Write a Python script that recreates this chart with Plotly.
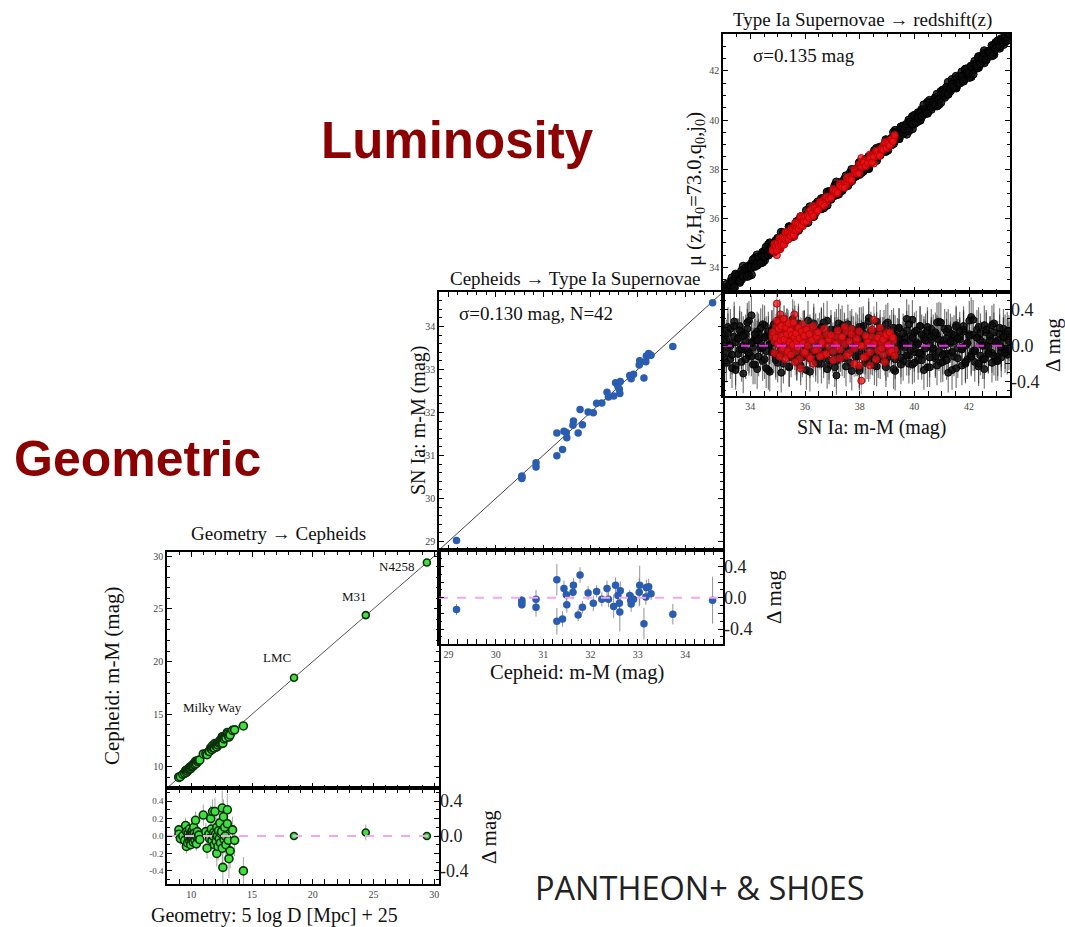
import plotly.graph_objects as go

W, H = 1065, 927
SERIF = "Liberation Serif"


def px(x):
    return x / W


def py(y):
    return 1 - y / H


# ------------------------------------------------------------------ data
# Panel 1: Geometry -> Cepheids (Milky Way parallax Cepheids)
mw_x = [8.98, 8.98, 9.1, 9.3, 9.45, 9.53, 9.6, 9.62, 9.7, 9.75,
        9.8, 9.85, 9.88, 9.92, 9.95, 10.0, 10.02, 10.05, 10.08, 10.1,
        10.12, 10.15, 10.2, 10.22, 10.25, 10.3, 10.35, 10.38, 10.42, 10.5,
        10.55, 10.62, 10.7, 10.99, 11.2, 11.3, 11.45, 11.5, 11.6, 11.65,
        11.7, 11.75, 11.8, 11.85, 11.9, 11.95, 12.0, 12.05, 12.1, 12.1,
        12.15, 12.2, 12.25, 12.3, 12.35, 12.4, 12.45, 12.5, 12.55, 12.55,
        12.6, 12.65, 12.7, 12.75, 12.8, 12.85, 12.97, 12.97, 13.05, 13.1,
        13.2, 13.4, 13.57, 14.29]
mw_res = [0.07, 0.02, -0.03, 0.0, -0.05, 0.12, -0.12, 0.05, -0.08, 0.03,
          -0.02, 0.08, -0.06, 0.01, -0.1, 0.04, -0.03, 0.0, 0.06, -0.04,
          0.02, -0.07, 0.1, -0.01, 0.03, -0.05, 0.18, 0.0, -0.09, 0.05,
          -0.02, 0.01, -0.04, 0.24, 0.05, -0.14, 0.02, -0.03, 0.2, 0.08,
          -0.05, 0.28, 0.0, 0.04, -0.1, 0.28, 0.02, -0.06, -0.2, 0.1,
          0.0, -0.12, 0.06, -0.03, 0.15, -0.08, 0.03, 0.05, 0.32, -0.14,
          -0.36, 0.22, -0.04, 0.1, 0.0, -0.1, 0.3, 0.14, -0.05, -0.26,
          -0.17, 0.07, -0.05, -0.4]
mw_err = [0.06, 0.08, 0.07, 0.1, 0.06, 0.09, 0.08, 0.05, 0.07, 0.06,
          0.05, 0.08, 0.06, 0.05, 0.07, 0.06, 0.05, 0.05, 0.07, 0.06,
          0.05, 0.06, 0.08, 0.05, 0.06, 0.07, 0.1, 0.06, 0.08, 0.07,
          0.06, 0.07, 0.08, 0.12, 0.1, 0.12, 0.1, 0.11, 0.15, 0.12,
          0.13, 0.14, 0.1, 0.12, 0.15, 0.16, 0.12, 0.14, 0.15, 0.13,
          0.12, 0.16, 0.14, 0.12, 0.18, 0.15, 0.14, 0.16, 0.2, 0.18,
          0.22, 0.2, 0.16, 0.18, 0.14, 0.2, 0.18, 0.17, 0.2, 0.22,
          0.2, 0.15, 0.18, 0.16]
anchor_names = ["LMC", "M31", "N4258"]
anchor_x = [18.46, 24.37, 29.40]
anchor_res = [0.0, 0.04, 0.0]
anchor_err = [0.03, 0.09, 0.04]

# Panel 2: Cepheids -> SN Ia calibrators (N=42)
cal_x = [29.17, 30.55, 30.55, 30.55, 30.85, 30.85, 31.29, 31.29, 31.41, 31.44,
         31.49, 31.5, 31.64, 31.63, 31.74, 31.78, 31.83, 31.95, 32.06, 32.13,
         32.24, 32.35, 32.38, 32.49, 32.53, 32.58, 32.61, 32.62, 32.63, 32.83,
         32.85, 32.86, 32.91, 33.03, 33.04, 33.13, 33.17, 33.18, 33.23, 33.28,
         33.74, 34.58]
cal_res = [-0.15, -0.03, -0.09, -0.06, -0.02, -0.12, 0.23, -0.30, -0.27, 0.12,
           0.04, -0.09, 0.16, 0.07, -0.22, 0.29, -0.12, 0.06, -0.07, 0.08,
           -0.02, 0.12, -0.02, -0.11, 0.16, 0.03, -0.07, -0.18, 0.09, 0.03,
           -0.03, -0.08, -0.02, 0.07, 0.16, -0.33, 0.01, 0.13, 0.14, 0.05,
           -0.21, -0.03]
cal_err = [0.07, 0.05, 0.05, 0.05, 0.12, 0.12, 0.2, 0.17, 0.1, 0.1,
           0.1, 0.1, 0.09, 0.09, 0.08, 0.1, 0.08, 0.09, 0.1, 0.08,
           0.09, 0.1, 0.1, 0.15, 0.1, 0.1, 0.1, 0.25, 0.12, 0.07,
           0.07, 0.1, 0.07, 0.18, 0.25, 0.2, 0.1, 0.1, 0.1, 0.08,
           0.13, 0.3]

# Panel 3: SN Ia -> redshift (Hubble flow); black = Pantheon+, red = low-z subsample
sn_x = [33.05, 33.12, 33.18, 33.27, 33.33, 33.41, 33.46, 33.55, 33.61, 33.68,
        33.74, 33.83, 33.89, 33.95, 34.04, 34.1, 34.17, 34.25, 34.3, 34.38,
        34.45, 34.52, 34.58, 34.66, 34.71, 34.79, 34.86, 34.93, 35.0, 35.07,
        35.13, 35.21, 35.28, 35.34, 35.42, 35.49, 35.55, 35.63, 35.7, 35.76,
        35.84, 35.9, 35.97, 36.05, 36.11, 36.18, 36.26, 36.32, 36.39, 36.47,
        36.53, 36.6, 36.68, 36.74, 36.81, 36.88, 36.95, 37.02, 37.09, 37.15,
        37.23, 37.3, 37.36, 37.44, 37.5, 37.57, 37.65, 37.71, 37.78, 37.86,
        37.92, 37.99, 38.06, 38.13, 38.2, 38.27, 38.33, 38.41, 38.47, 38.54,
        38.62, 38.68, 38.75, 38.83, 38.89, 38.96, 39.03, 39.1, 39.17, 39.24,
        39.3, 39.38, 39.44, 39.51, 39.59, 39.65, 39.72, 39.8, 39.86, 39.93,
        40.0, 40.07, 40.14, 40.21, 40.27, 40.35, 40.41, 40.48, 40.56, 40.62,
        40.69, 40.77, 40.83, 40.9, 40.97, 41.04, 41.11, 41.18, 41.24, 41.32,
        41.38, 41.45, 41.53, 41.59, 41.66, 41.74, 41.8, 41.87, 41.94, 42.01,
        42.08, 42.15, 42.21, 42.29, 42.35, 42.42, 42.5, 42.56, 42.63, 42.71,
        42.77, 42.84, 42.91, 42.98, 43.05, 43.12, 43.18, 43.26, 43.32, 43.4,
        43.46]
sn_res_a = [0.12, -0.08, 0.21, -0.15, 0.03, 0.27, -0.22, 0.09, -0.04, 0.16,
            -0.31, 0.05, 0.19, -0.11, 0.34, -0.02, 0.08, -0.26, 0.14, 0.01,
            -0.17, 0.23, -0.06, 0.11, -0.29, 0.18, 0.04, -0.13, 0.26, -0.09,
            0.07, -0.2, 0.15, 0.0, -0.24, 0.1, 0.3, -0.05, -0.16, 0.22,
            0.06, -0.1, 0.17, -0.27, 0.02, 0.13, -0.07, 0.25, -0.18, 0.09,
            -0.03, 0.2, -0.14, 0.05, 0.28, -0.21, 0.12, -0.08, 0.16, -0.33,
            0.04, 0.19, -0.12, 0.08, -0.01, 0.24, -0.19, 0.11, -0.06, 0.15,
            0.03, -0.25, 0.21, -0.09, 0.07, -0.15, 0.31, 0.0, -0.11, 0.14,
            -0.23, 0.06, 0.18, -0.04, 0.1, -0.17, 0.26, -0.08, 0.02, 0.13,
            -0.28, 0.09, 0.2, -0.13, 0.05, -0.02, 0.17, -0.2, 0.11, 0.29,
            -0.07, 0.04, -0.16, 0.22, -0.1, 0.08, 0.14, -0.24, 0.01, 0.19,
            -0.05, -0.14, 0.12, 0.27, -0.19, 0.06, -0.09, 0.16, -0.3, 0.03,
            0.1, -0.12, 0.23, -0.03, 0.07, -0.22, 0.18, 0.0, -0.15, 0.13,
            0.32, -0.06, -0.18, 0.09, 0.21, -0.11, 0.04, -0.26, 0.15, -0.01,
            0.11, -0.08, 0.25, -0.17, 0.06, 0.02, -0.13, 0.19, -0.04, 0.08,
            0.12]
sn_res_b = [-0.14, 0.07, -0.02, 0.19, -0.25, 0.1, 0.04, -0.09, 0.22, -0.18,
            0.0, 0.13, -0.06, 0.28, -0.12, 0.05, -0.21, 0.16, 0.08, -0.03,
            0.24, -0.15, 0.11, -0.27, 0.02, 0.17, -0.08, 0.09, -0.19, 0.3,
            -0.04, 0.12, -0.1, 0.2, -0.23, 0.06, 0.14, -0.01, -0.17, 0.25,
            0.03, -0.13, 0.18, -0.07, 0.1, -0.29, 0.07, 0.21, -0.11, 0.01,
            0.15, -0.2, 0.26, -0.05, 0.09, -0.16, 0.12, 0.04, -0.24, 0.19,
            -0.09, 0.02, 0.23, -0.14, 0.08, -0.02, 0.17, -0.28, 0.11, 0.05,
            -0.12, 0.21, -0.06, 0.14, -0.19, 0.0, 0.27, -0.1, 0.07, -0.22,
            0.16, 0.03, -0.15, 0.1, -0.04, 0.24, -0.13, 0.06, 0.18, -0.26,
            0.12, -0.07, 0.2, -0.01, -0.17, 0.09, 0.3, -0.11, 0.04, -0.21,
            0.15, 0.01, -0.08, 0.22, -0.16, 0.11, -0.03, 0.17, -0.24, 0.07,
            0.13, -0.12, 0.26, -0.06, 0.02, -0.18, 0.19, 0.08, -0.09, 0.14,
            -0.27, 0.05, 0.21, -0.14, 0.1, -0.02, 0.16, -0.2, 0.03, 0.28,
            -0.1, 0.12, -0.05, 0.18, -0.23, 0.06, -0.15, 0.23, 0.0, -0.08,
            0.11, -0.19, 0.15, 0.04, -0.12, 0.2, -0.06, 0.09, 0.13, -0.1,
            0.05]
sn_res_c = [0.05, -0.19, 0.14, 0.0, -0.1, 0.22, -0.27, 0.08, 0.17, -0.04,
            0.11, -0.15, 0.26, -0.08, 0.03, -0.21, 0.13, 0.06, -0.12, 0.2,
            -0.02, 0.09, -0.25, 0.16, 0.01, -0.07, 0.24, -0.16, 0.1, 0.04,
            -0.3, 0.15, -0.05, 0.19, 0.07, -0.13, 0.0, 0.23, -0.1, 0.12,
            -0.22, 0.05, 0.17, -0.03, 0.28, -0.14, 0.08, -0.06, 0.14, -0.2,
            0.02, 0.21, -0.09, 0.11, -0.26, 0.06, 0.18, -0.01, 0.1, -0.17,
            0.25, -0.07, 0.03, 0.15, -0.23, 0.09, -0.04, 0.19, 0.0, -0.12,
            0.13, -0.28, 0.07, 0.22, -0.1, 0.04, -0.18, 0.16, 0.01, -0.06,
            0.27, -0.14, 0.1, -0.02, 0.18, -0.24, 0.05, 0.12, -0.09, 0.2,
            -0.15, 0.0, 0.08, -0.21, 0.14, 0.03, -0.11, 0.24, -0.05, 0.09,
            -0.19, 0.17, 0.02, -0.08, 0.13, -0.27, 0.06, 0.21, -0.13, 0.1,
            -0.03, 0.15, -0.22, 0.07, 0.26, -0.1, 0.01, -0.16, 0.19, 0.05,
            -0.07, 0.12, -0.25, 0.08, 0.16, -0.04, 0.22, -0.18, 0.03, 0.11,
            -0.12, 0.29, -0.06, 0.09, -0.2, 0.14, 0.0, -0.15, 0.18, -0.09,
            0.06, 0.23, -0.11, 0.04, -0.17, 0.13, -0.02, 0.1, -0.08, 0.16,
            -0.05]
sn_err = 0.22
red_x = [34.82, 34.88, 34.93, 34.97, 35.0, 35.04, 35.07, 35.1, 35.13, 35.16,
         35.19, 35.22, 35.25, 35.28, 35.31, 35.34, 35.37, 35.4, 35.43, 35.46,
         35.49, 35.52, 35.55, 35.58, 35.61, 35.64, 35.67, 35.7, 35.73, 35.77,
         35.8, 35.84, 35.88, 35.92, 35.96, 36.0, 36.05, 36.1, 36.15, 36.2,
         36.25, 36.3, 36.36, 36.42, 36.48, 36.55, 36.62, 36.7, 36.78, 36.86,
         36.95, 37.03, 37.12, 37.2, 37.28, 37.36, 37.45, 37.53, 37.62, 37.7,
         37.8, 37.9, 37.98, 38.06, 38.14, 38.22, 38.3, 38.38, 38.45, 38.52,
         38.6, 38.67, 38.74, 38.8, 38.86, 38.92, 38.98, 39.04, 39.1, 39.16,
         39.22, 39.28]
red_res_a = [0.1, 0.05, 0.2, 0.47, 0.14, 0.02, 0.25, 0.35, 0.08, -0.05,
             0.18, 0.12, 0.3, 0.04, 0.16, -0.1, 0.22, 0.07, 0.13, -0.02,
             0.19, 0.09, 0.27, 0.01, 0.35, 0.15, -0.06, 0.11, 0.21, 0.03,
             -0.15, 0.17, 0.08, 0.24, -0.08, 0.12, 0.05, 0.2, -0.12, 0.1,
             0.16, -0.2, 0.06, 0.14, -0.04, 0.09, 0.02, -0.1, 0.13, 0.0,
             0.07, -0.06, 0.11, 0.04, -0.14, 0.09, 0.02, 0.16, -0.08, 0.19,
             -0.03, 0.05, -0.22, -0.39, 0.0, -0.12, 0.08, -0.22, 0.1, 0.29,
             0.06, -0.05, 0.12, 0.03, -0.1, 0.09, 0.14, 0.0, -0.07, 0.11,
             0.05, -0.04]
red_res_b = [0.15, -0.08, 0.09, 0.28, 0.02, 0.19, -0.12, 0.06, 0.22, 0.11,
             -0.03, 0.3, 0.07, -0.15, 0.2, 0.13, -0.06, 0.25, 0.04, 0.17,
             -0.1, 0.12, 0.01, 0.26, 0.09, -0.18, 0.14, 0.05, -0.02, 0.2,
             0.08, -0.25, 0.16, 0.03, 0.11, -0.07, 0.18, 0.0, 0.13, -0.14,
             0.06, 0.22, -0.05, 0.1, 0.15, -0.12, 0.04, 0.19, -0.09, 0.07,
             0.12, -0.16, 0.02, 0.17, -0.04, 0.1, 0.21, -0.11, 0.05, 0.13,
             -0.2, 0.08, 0.16, 0.0, -0.13, 0.11, 0.04, -0.07, 0.18, 0.02,
             -0.15, 0.09, 0.2, -0.03, 0.07, -0.18, 0.12, 0.01, 0.15, -0.06,
             0.09, -0.11]
red_err = 0.15

# axis ranges
r1 = [8.0, 30.4]
r1_res = [-0.55, 0.55]
r2 = [28.8, 34.8]
r2_res = [-0.59, 0.61]
r3 = [33.0, 43.5]
r3_res = [-0.56, 0.60]

# ------------------------------------------------------------------ helpers


def plus(a, b):
    return [u + v for u, v in zip(a, b)]


def minus(a, b):
    return [u - v for u, v in zip(a, b)]


def frame(**kw):
    base = dict(showline=True, linecolor="black", linewidth=1.5, mirror="allticks",
                ticks="inside", ticklen=5, tickcolor="black", tickwidth=1,
                showgrid=False, zeroline=False,
                tickfont=dict(family=SERIF, size=10, color="#444"))
    base.update(kw)
    return base


def right_axis(over, anchor, rng, dom):
    return dict(overlaying=over, side="right", anchor=anchor, range=rng, domain=dom,
                tickvals=[-0.4, 0.0, 0.4], ticktext=["-0.4", "0.0", "0.4"],
                tickfont=dict(family=SERIF, size=18, color="#222"),
                showline=False, ticks="", showgrid=False, zeroline=False)


GREEN = "#3fe03f"
GREEN_EDGE = "#0a300a"
BLUE = "#2a5cb0"
RED = "rgba(232,20,28,0.75)"
BLACK = "rgba(12,12,12,0.85)"

fig = go.Figure()

# ---------------- panel 1 (geometry -> Cepheids)
fig.add_trace(go.Scatter(x=r1, y=r1, mode="lines", line=dict(color="#555", width=1),
                         xaxis="x", yaxis="y", hoverinfo="skip"))
fig.add_trace(go.Scatter(x=mw_x, y=plus(mw_x, mw_res), mode="markers",
                         marker=dict(size=8, color=GREEN, line=dict(color=GREEN_EDGE, width=1.6)),
                         xaxis="x", yaxis="y"))
fig.add_trace(go.Scatter(x=anchor_x, y=plus(anchor_x, anchor_res), mode="markers",
                         marker=dict(size=7, color=GREEN, line=dict(color=GREEN_EDGE, width=1.6)),
                         xaxis="x", yaxis="y"))
# residuals
fig.add_trace(go.Scatter(x=r1, y=[0, 0], mode="lines",
                         line=dict(color="#f4a6f4", width=2, dash="dash"),
                         xaxis="x2", yaxis="y3", hoverinfo="skip"))
fig.add_trace(go.Scatter(x=mw_x, y=mw_res, mode="markers",
                         error_y=dict(type="data", array=mw_err, color="rgba(130,130,130,0.7)",
                                      thickness=1, width=0),
                         marker=dict(size=8, color=GREEN, line=dict(color=GREEN_EDGE, width=1.6)),
                         xaxis="x2", yaxis="y2"))
fig.add_trace(go.Scatter(x=anchor_x, y=anchor_res, mode="markers",
                         error_y=dict(type="data", array=anchor_err, color="rgba(130,130,130,0.7)",
                                      thickness=1, width=0),
                         marker=dict(size=7, color=GREEN, line=dict(color=GREEN_EDGE, width=1.6)),
                         xaxis="x2", yaxis="y2"))

# ---------------- panel 2 (Cepheids -> SN Ia)
fig.add_trace(go.Scatter(x=r2, y=r2, mode="lines", line=dict(color="#444", width=1),
                         xaxis="x3", yaxis="y4", hoverinfo="skip"))
fig.add_trace(go.Scatter(x=cal_x, y=plus(cal_x, cal_res), mode="markers",
                         marker=dict(size=7.5, color=BLUE),
                         xaxis="x3", yaxis="y4"))
fig.add_trace(go.Scatter(x=r2, y=[0, 0], mode="lines",
                         line=dict(color="#f4a6f4", width=2, dash="dash"),
                         xaxis="x4", yaxis="y6", hoverinfo="skip"))
fig.add_trace(go.Scatter(x=cal_x, y=cal_res, mode="markers",
                         error_y=dict(type="data", array=cal_err, color="rgba(120,120,120,0.8)",
                                      thickness=1, width=0),
                         marker=dict(size=7.5, color=BLUE),
                         xaxis="x4", yaxis="y5"))

# ---------------- panel 3 (SN Ia -> redshift)
fig.add_trace(go.Scatter(x=r3, y=r3, mode="lines", line=dict(color="#444", width=1),
                         xaxis="x5", yaxis="y7", hoverinfo="skip"))
black_sets = (sn_res_a, sn_res_b, sn_res_c)
red_sets = (red_res_a, red_res_b)
for res in black_sets:
    n = min(len(sn_x), len(res))
    fig.add_trace(go.Scatter(x=sn_x[:n], y=minus(sn_x[:n], res[:n]), mode="markers",
                             marker=dict(size=8, color=BLACK, line=dict(color="black", width=1)),
                             xaxis="x5", yaxis="y7"))
for res in red_sets:
    n = min(len(red_x), len(res))
    fig.add_trace(go.Scatter(x=red_x[:n], y=minus(red_x[:n], res[:n]), mode="markers",
                             marker=dict(size=7, color=RED, line=dict(color="#c00000", width=1)),
                             xaxis="x5", yaxis="y7"))
for res in black_sets:
    n = min(len(sn_x), len(res))
    fig.add_trace(go.Scatter(x=sn_x[:n], y=res[:n], mode="markers",
                             error_y=dict(type="constant", value=sn_err,
                                          color="rgba(30,30,30,0.6)", thickness=1.2, width=0),
                             marker=dict(size=7, color=BLACK, line=dict(color="black", width=1)),
                             xaxis="x6", yaxis="y8"))
for res in red_sets:
    n = min(len(red_x), len(res))
    fig.add_trace(go.Scatter(x=red_x[:n], y=res[:n], mode="markers",
                             error_y=dict(type="constant", value=red_err,
                                          color="rgba(60,60,60,0.5)", thickness=1, width=0),
                             marker=dict(size=7, color=RED, line=dict(color="#c00000", width=1)),
                             xaxis="x6", yaxis="y8"))
fig.add_trace(go.Scatter(x=r3, y=[0, 0], mode="lines",
                         line=dict(color="#e22ee2", width=2, dash="dash"),
                         xaxis="x6", yaxis="y9", hoverinfo="skip"))

# ------------------------------------------------------------------ layout
d1x = [px(167), px(439)]
d1m = [py(788), py(552)]
d1r = [py(884), py(788)]
d2x = [px(439), px(723)]
d2m = [py(550), py(292)]
d2r = [py(644), py(550)]
d3x = [px(723), px(1010)]
d3m = [py(292), py(34)]
d3r = [py(396), py(292)]

fig.update_layout(
    width=W, height=927, autosize=False, showlegend=False,
    margin=dict(l=0, r=0, t=0, b=0),
    paper_bgcolor="white", plot_bgcolor="white",
    # panel 1
    xaxis=frame(domain=d1x, range=r1, anchor="y", dtick=5, showticklabels=False,
                minor=dict(ticks="inside", ticklen=3, dtick=1, tickcolor="black")),
    yaxis=frame(domain=d1m, range=r1, anchor="x", dtick=5,
                minor=dict(ticks="inside", ticklen=3, dtick=1, tickcolor="black")),
    xaxis2=frame(domain=d1x, range=r1, anchor="y2", dtick=5,
                 minor=dict(ticks="inside", ticklen=3, dtick=1, tickcolor="black")),
    yaxis2=frame(domain=d1r, range=r1_res, anchor="x2",
                 tickvals=[-0.4, -0.2, 0.0, 0.2, 0.4],
                 ticktext=["-0.4", "-0.2", "0.0", "0.2", "0.4"],
                 tickfont=dict(family=SERIF, size=9, color="#444"),
                 minor=dict(ticks="inside", ticklen=3, dtick=0.1, tickcolor="black")),
    yaxis3=right_axis("y2", "x2", r1_res, d1r),
    # panel 2
    xaxis3=frame(domain=d2x, range=r2, anchor="y4", dtick=1, showticklabels=False,
                 minor=dict(ticks="inside", ticklen=3, dtick=0.2, tickcolor="black")),
    yaxis4=frame(domain=d2m, range=r2, anchor="x3", dtick=1,
                 minor=dict(ticks="inside", ticklen=3, dtick=0.2, tickcolor="black")),
    xaxis4=frame(domain=d2x, range=r2, anchor="y5", dtick=1,
                 minor=dict(ticks="inside", ticklen=3, dtick=0.2, tickcolor="black")),
    yaxis5=frame(domain=d2r, range=r2_res, anchor="x4", dtick=0.2, showticklabels=False,
                 minor=dict(ticks="inside", ticklen=3, dtick=0.1, tickcolor="black")),
    yaxis6=right_axis("y5", "x4", r2_res, d2r),
    # panel 3
    xaxis5=frame(domain=d3x, range=r3, anchor="y7", dtick=2, showticklabels=False,
                 minor=dict(ticks="inside", ticklen=3, dtick=0.5, tickcolor="black")),
    yaxis7=frame(domain=d3m, range=r3, anchor="x5", dtick=2,
                 minor=dict(ticks="inside", ticklen=3, dtick=0.5, tickcolor="black")),
    xaxis6=frame(domain=d3x, range=r3, anchor="y8", dtick=2,
                 minor=dict(ticks="inside", ticklen=3, dtick=0.5, tickcolor="black")),
    yaxis8=frame(domain=d3r, range=r3_res, anchor="x6", dtick=0.2, showticklabels=False,
                 minor=dict(ticks="inside", ticklen=3, dtick=0.1, tickcolor="black")),
    yaxis9=right_axis("y8", "x6", r3_res, d3r),
)


def note(text, x, y, size, angle=0, family=SERIF, color="#111", xanchor="center", bold=False):
    fig.add_annotation(text=f"<b>{text}</b>" if bold else text,
                       x=px(x), y=py(y), xref="paper", yref="paper",
                       xanchor=xanchor, yanchor="middle", showarrow=False, textangle=angle,
                       font=dict(family=family, size=size, color=color))


# panel titles
note("Geometry \u2192 Cepheids", 278, 533, 19)
note("Cepheids \u2192 Type Ia Supernovae", 575, 278, 19)
note("Type Ia Supernovae \u2192 redshift(z)", 862, 20, 19)
# sigma notes
note("\u03c3=0.130 mag, N=42", 457, 313, 19, xanchor="left")
note("\u03c3=0.135 mag", 751, 55, 19, xanchor="left")
# object labels in panel 1
note("Milky Way", 212, 707, 13)
for name, lx, ly in zip(anchor_names, [277, 354, 396], [657, 596, 566]):
    note(name, lx, ly, 13)
# axis titles
note("Cepheid: m-M (mag)", 112, 676, 21, angle=-90)
note("Geometry: 5 log D [Mpc] + 25", 274, 915, 20)
note("\u0394 mag", 489, 837, 21, angle=-90)
note("SN Ia: m-M (mag)", 418, 421, 20, angle=-90)
note("Cepheid: m-M (mag)", 577, 672, 20.5)
note("\u0394 mag", 774, 597, 21, angle=-90)
note("\u03bc (z,H<sub>0</sub>=73.0,q<sub>0</sub>,j<sub>0</sub>)", 695, 189, 20.5, angle=-90)
note("SN Ia: m-M (mag)", 871, 427, 20)
note("\u0394 mag", 1053, 345, 21, angle=-90)
# big labels
note("Luminosity", 457, 141, 51, family="Liberation Sans", color="#8b0000", bold=True)
note("Geometric", 137, 459, 50, family="Liberation Sans", color="#8b0000", bold=True)
note("PANTHEON+ &amp; SH0ES", 700, 887, 32.5, family="Open Sans", color="#222")

fig.write_html("out.html")
